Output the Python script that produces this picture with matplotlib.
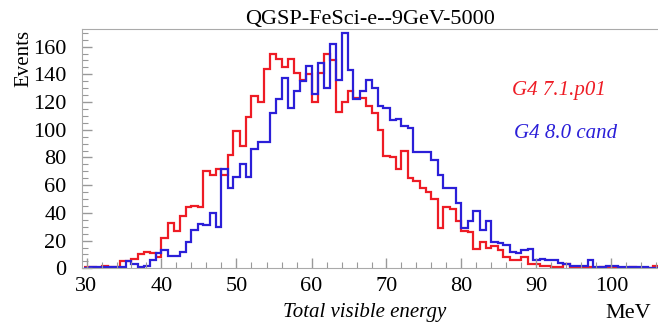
import numpy as np
import matplotlib
matplotlib.use("Agg")
import matplotlib.pyplot as plt
from matplotlib.ticker import MultipleLocator

# histogram binning (0.8 MeV bins)
bin_start = 29.6
bin_width = 0.8

# G4 7.1.p01 (red) counts per bin
red_counts = [1, 1, 0, 2, 1, 1, 5, 5, 7, 10, 12, 11, 8, 22, 33, 27, 38, 44, 45, 44,
              70, 67, 72, 67, 82, 99, 88, 109, 124, 120, 144, 155, 151, 145, 151, 141, 136, 140, 120, 141,
              155, 150, 113, 120, 128, 123, 123, 117, 112, 100, 81, 80, 72, 85, 65, 63, 58, 55, 50, 29,
              44, 43, 34, 27, 26, 14, 19, 15, 16, 13, 8, 6, 6, 8, 3, 3, 2, 2, 1, 1,
              3, 1, 1, 1, 1, 0, 1, 0, 1, 0, 0, 1, 0, 0, 0, 2]

# G4 8.0 cand (blue) counts per bin
blue_counts = [0, 1, 1, 1, 1, 1, 1, 5, 3, 1, 2, 6, 11, 13, 9, 9, 12, 19, 28, 32,
               31, 40, 30, 72, 58, 66, 75, 66, 86, 91, 91, 112, 122, 137, 116, 128, 135, 146, 126, 148,
               130, 162, 136, 170, 143, 122, 128, 136, 130, 117, 116, 107, 108, 103, 101, 84, 84, 84, 78, 67,
               58, 58, 47, 29, 34, 41, 28, 34, 19, 18, 17, 12, 11, 13, 14, 6, 7, 6, 6, 4,
               3, 2, 2, 2, 6, 1, 1, 2, 2, 1, 1, 1, 1, 1, 0, 0]

edges = bin_start + bin_width * np.arange(len(red_counts) + 1)

plt.rcParams['font.family'] = ['Liberation Serif', 'DejaVu Serif']

fig = plt.figure(figsize=(6.58, 3.25), dpi=100)
ax = fig.add_axes([82 / 658, 1 - 268.3 / 325, 1 - 82 / 658, (268.3 - 29.3) / 325])

ax.stairs(red_counts, edges, color='#ee1c25', linewidth=1.6, baseline=None)
ax.stairs(blue_counts, edges, color='#2b1fd8', linewidth=1.6, baseline=None)

ax.set_xlim(29.4, 106.2)
ax.set_ylim(0, 172.5)

ax.xaxis.set_major_locator(MultipleLocator(10))
ax.xaxis.set_minor_locator(MultipleLocator(2))
ax.yaxis.set_major_locator(MultipleLocator(20))
ax.yaxis.set_minor_locator(MultipleLocator(5))
ax.tick_params(which='both', direction='in', color='#999999', top=False, right=False)
ax.tick_params(which='major', length=7, width=1, labelsize=16)
ax.tick_params(which='minor', length=4, width=0.8)
ax.tick_params(axis='y', pad=11)
ax.tick_params(axis='x', pad=6)

for side in ['left', 'bottom', 'top']:
    ax.spines[side].set_color('#aaaaaa')
ax.spines['right'].set_visible(False)

ax.set_title('QGSP-FeSci-e--9GeV-5000', fontsize=16, pad=3)
fig.text(0.037, 1 - 58 / 325, 'Events', rotation=90, fontsize=15, ha='center', va='center')
fig.text(365 / 658, 1 - 313 / 325, 'Total visible energy', fontsize=15, style='italic',
         ha='center', va='center')
fig.text(628 / 658, 1 - 313 / 325, 'MeV', fontsize=16, ha='center', va='center')

fig.text(559 / 658, 1 - 90 / 325, 'G4 7.1.p01', fontsize=15, style='italic',
         color='#ee1c25', ha='center', va='center')
fig.text(566 / 658, 1 - 133 / 325, 'G4 8.0 cand', fontsize=15, style='italic',
         color='#2b1fd8', ha='center', va='center')

fig.savefig('out.png', dpi=100)
